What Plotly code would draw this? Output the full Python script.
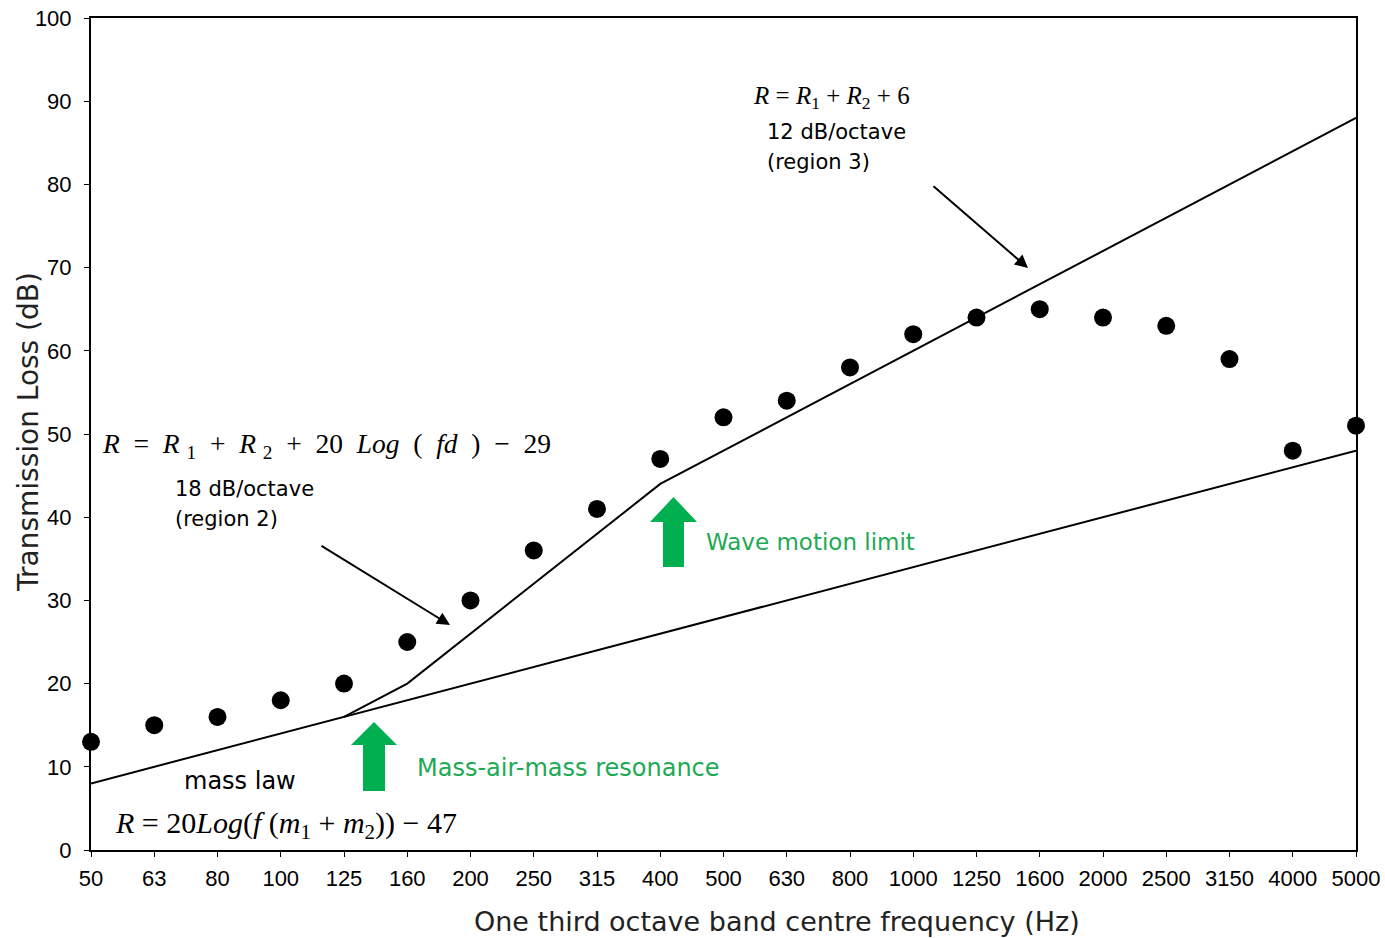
import plotly.graph_objects as go

freq_labels = ["50", "63", "80", "100", "125", "160", "200", "250", "315", "400", "500",
               "630", "800", "1000", "1250", "1600", "2000", "2500", "3150", "4000", "5000"]
measured_tl = [13, 15, 16, 18, 20, 25, 30, 36, 41, 47, 52, 54, 58, 62, 64, 65, 64, 63, 59, 48, 51]
mass_law_idx = [0, 20]
mass_law_tl = [8, 48]
double_idx = [4, 5, 9, 20]
double_tl = [16, 20, 44, 88]
y_ticks = list(range(0, 101, 10))

# layout helpers (pixel -> data / paper)
L, R, T, B = 91, 1356, 18, 850
def xd(px):
    return (px - L) / (R - L) * 20
def yd(py):
    return (B - py) / (B - T) * 100
def xp(px):
    return (px - L) / (R - L)
def yp(py):
    return (B - py) / (B - T)

idx = list(range(len(freq_labels)))
fig = go.Figure()
fig.add_trace(go.Scatter(x=mass_law_idx, y=mass_law_tl, mode="lines",
                         line=dict(color="black", width=2), showlegend=False, cliponaxis=False))
fig.add_trace(go.Scatter(x=double_idx, y=double_tl, mode="lines",
                         line=dict(color="black", width=2), showlegend=False, cliponaxis=False))
fig.add_trace(go.Scatter(x=idx, y=measured_tl, mode="markers",
                         marker=dict(color="black", size=18), showlegend=False, cliponaxis=False))

serif = "Liberation Serif"
sans = "DejaVu Sans"
tickfam = "Liberation Sans"
green = "#00B050"
gtext = "#1DAA55"

ann = []
def text(px, py, s, size, family=sans, color="black", xanchor="left", angle=0):
    ann.append(dict(x=xp(px), y=yp(py), xref="paper", yref="paper", text=s, showarrow=False,
                    xanchor=xanchor, yanchor="middle", textangle=angle,
                    font=dict(family=family, size=size, color=color)))

text(751, 97, "<i>R</i> = <i>R</i><sub>1</sub> + <i>R</i><sub>2</sub> + 6", 25, serif)
text(765, 132, "12 dB/octave", 21)
text(765, 162, "(region 3)", 21)
text(100, 446, "<i>R</i>  =  <i>R</i> <sub>1</sub>  +  <i>R</i> <sub>2</sub>  +  20  <i>Log</i>  (  <i>fd</i>  )  −  29", 27.5, serif)
text(173, 489, "18 dB/octave", 21)
text(173, 519, "(region 2)", 21)
text(182, 781, "mass law", 24)
text(113, 825, "<i>R</i> = 20<i>Log</i>(<i>f</i> (<i>m</i><sub>1</sub> + <i>m</i><sub>2</sub>)) − 47", 30, serif)
text(704, 542, "Wave motion limit", 23, color=gtext)
text(415, 768, "Mass-air-mass resonance", 24, color=gtext)
# axis titles
text(777, 921, "One third octave band centre frequency (Hz)", 27, color="#222222", xanchor="center")
text(28, 432, "Transmission Loss (dB)", 28, color="#222222", xanchor="center", angle=-90)

# black arrows
for (x0, y0, x1, y1) in [(320, 545, 450, 625), (932, 185, 1028, 268)]:
    ann.append(dict(x=xd(x1), y=yd(y1), xref="x", yref="y", ax=xd(x0), ay=yd(y0),
                    axref="x", ayref="y", showarrow=True, arrowhead=2, arrowsize=1.3,
                    arrowwidth=2, arrowcolor="black", text=""))

shapes = []
def block_arrow(hx0, hx1, tip, base, sx0, sx1, bottom):
    pts = [(sx0, bottom), (sx0, base), (hx0, base), ((hx0 + hx1) / 2, tip), (hx1, base), (sx1, base), (sx1, bottom)]
    path = "M " + " L ".join(f"{xd(a):.4f},{yd(b):.4f}" for a, b in pts) + " Z"
    shapes.append(dict(type="path", path=path, xref="x", yref="y", fillcolor=green, line=dict(width=0)))

block_arrow(351, 397, 722, 745, 363, 385, 791)
block_arrow(650, 697, 497, 522, 663, 684, 567)

fig.update_layout(
    width=1385, height=938,
    margin=dict(l=L, r=1385 - R, t=T, b=938 - B),
    paper_bgcolor="white", plot_bgcolor="white",
    annotations=ann, shapes=shapes,
    xaxis=dict(range=[0, 20], tickvals=idx, ticktext=freq_labels, showgrid=False, zeroline=False,
               showline=True, linecolor="black", linewidth=2, mirror=True, automargin=False,
               ticks="outside", ticklen=5, tickcolor="black", ticklabelstandoff=3,
               tickfont=dict(family=tickfam, size=22, color="black")),
    yaxis=dict(range=[0, 100], tickvals=y_ticks, showgrid=False, zeroline=False,
               showline=True, linecolor="black", linewidth=2, mirror=True, automargin=False,
               ticks="outside", ticklen=5, tickcolor="black", ticklabelstandoff=8,
               tickfont=dict(family=tickfam, size=22, color="black")),
)
fig.write_html("out.html")
